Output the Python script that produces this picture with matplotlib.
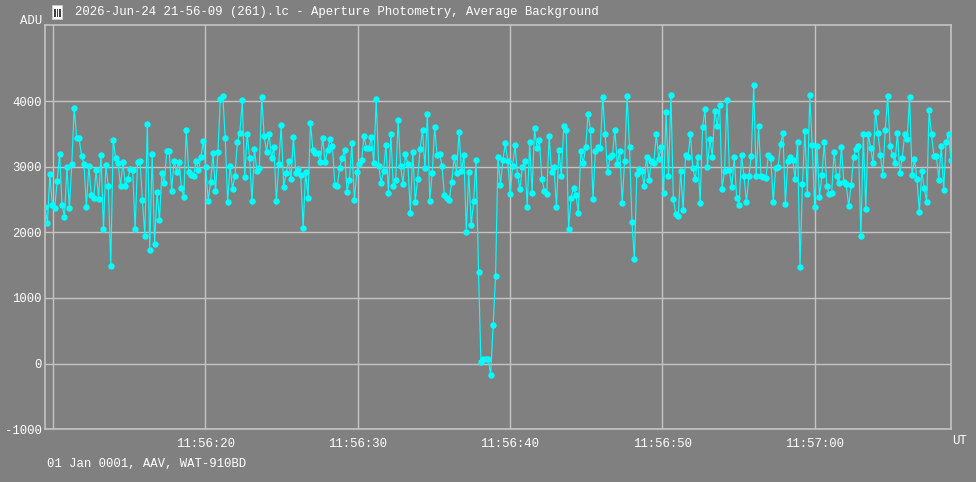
import numpy as np
import matplotlib
matplotlib.use("Agg")
import matplotlib.pyplot as plt
from matplotlib.patches import Rectangle

# ---- data (ADU values, in frame order) ----
adu_a = [2389, 2141, 2889, 2419, 2369, 2778, 3197, 2419, 2237, 2995, 2369, 3040, 3900, 3444, 3429, 3167,
         3045, 2389, 3015, 2566, 2525, 2944, 2510, 3182, 2045, 3020, 2702, 1490, 3404, 3136, 3056, 2702,
         3076, 2702, 2818, 2965, 2955, 2045, 3076, 3091, 2485, 1950, 3657, 1738, 3187, 1823, 2611, 2192,
         2899, 2758, 3242, 3242, 2636, 3091, 2919, 3076, 2677, 2545, 3555, 2924, 2869, 2859, 3091, 2944]
adu_b = [3146, 3389, 3000, 2475, 2768, 3202, 2626, 3227, 4030, 4081, 3434, 2455, 3015, 2662, 2864, 3374,
         3515, 4010, 2838, 3505, 3136, 2470, 3273, 2939, 2985, 4061, 3460, 3227, 3505, 3131, 3303, 2470,
         3040, 3631, 2692, 2899, 3091, 2813, 3455, 2904, 2965, 2874, 2071, 2924, 2520, 3666, 3258, 3202,
         3202, 3071, 3444, 3066, 3247, 3419, 3318, 2727, 2712, 2985, 3136, 3252, 2621, 2793, 3358, 2485]
adu_c = [2914, 3041, 3096, 3466, 3279, 3279, 3456, 3056, 4034, 3015, 2757, 2934, 3335, 2600, 3497, 2701,
         2792, 3715, 3005, 2741, 3193, 3035, 2300, 3223, 2458, 2807, 3269, 3558, 2980, 3806, 2483, 2909,
         3598, 3172, 3198, 3015, 2564, 2528, 2498, 2767, 3147, 2909, 3527, 2934, 3172, 2011, 2924, 2108,
         2478, 3106, 1403, 19, 75, 64, 64, -169, 582, 1337, 3152, 2726, 3096, 3355, 3086, 2579]
adu_d = [3015, 3330, 2878, 2655, 2995, 3081, 2390, 3371, 2599, 3584, 3279, 3406, 2817, 2634, 2578, 3467,
         2919, 2995, 2380, 3254, 2863, 3615, 3559, 2045, 2528, 2675, 2568, 2299, 3244, 3056, 3300, 3798,
         3559, 2507, 3239, 3300, 3290, 4062, 3493, 2919, 3147, 3178, 3559, 3036, 3244, 2441, 3091, 4077,
         3295, 2162, 1588, 2883, 2959, 2929, 2710, 3152, 2792, 3081, 3051, 3498, 3122, 3295, 2604, 3828]
adu_e = [2858, 4092, 2507, 2279, 2243, 2934, 2345, 3183, 3142, 3493, 2975, 2807, 3152, 2441, 3599, 3874,
         3000, 3416, 3152, 3853, 3620, 3945, 2665, 2929, 4021, 2944, 2685, 3142, 2522, 2416, 3178, 2863,
         2456, 2853, 3168, 4245, 2858, 3620, 2858, 2838, 2822, 3178, 3132, 2461, 2985, 2995, 3345, 3513,
         2431, 3086, 3147, 3107, 2812, 3381, 1471, 2736, 3538, 2578, 4087, 3330, 2385, 3310, 2538]
adu_f = [2868, 3371, 2710, 2583, 2599, 3224, 2858, 2746, 3300, 2771, 2731, 2395, 2721, 3147, 3264, 3315,
         1938, 3503, 2350, 3498, 3284, 3051, 3838, 3508, 3183, 2868, 3554, 4082, 3315, 3183, 3056, 3513,
         2909, 3137, 3503, 3416, 4057, 2873, 3112, 2817, 2309, 2939, 2675, 2467, 3859, 3493, 3163, 3163,
         2802, 3320, 2644, 3371, 3498, 3097]

start_sec = 9.49          # seconds after 11:56:00 of the first frame
frame_step = 0.1598       # seconds between frames

xtick_secs = [10, 20, 30, 40, 50, 60]
xtick_labels = ["", "11:56:20", "11:56:30", "11:56:40", "11:56:50", "11:57:00"]
ytick_vals = [-1000, 0, 1000, 2000, 3000, 4000]

title = "2026-Jun-24 21-56-09 (261).lc - Aperture Photometry, Average Background"
footer = "01 Jan 0001, AAV, WAT-910BD"

# ---- build ----
adu = np.array(adu_a + adu_b + adu_c + adu_d + adu_e + adu_f, dtype=float)
t = start_sec + frame_step * np.arange(len(adu))

W, H = 976, 482
bg = "#808080"
grid_c = "#c4c4c4"
cyan = "#00ffff"
font = ["Liberation Mono", "DejaVu Sans Mono"]
fs = 8.9

fig = plt.figure(figsize=(W / 100, H / 100), dpi=100, facecolor=bg)
ax = fig.add_axes([45 / W, 1 - 429.3 / H, 906 / W, (429.3 - 25.3) / H], facecolor=bg)

ax.plot(t, adu, color=cyan, lw=0.85, marker="o", ms=3.6, mec=cyan, mfc=cyan, zorder=3)

ax.set_xlim(t[0], t[-1])
ax.set_ylim(-1000, 5153)
ax.set_xticks(xtick_secs)
ax.set_xticklabels(xtick_labels)
ax.set_yticks(ytick_vals)
ax.set_yticklabels([str(v) for v in ytick_vals])
ax.grid(True, color=grid_c, lw=1.0)
ax.set_axisbelow(True)
ax.tick_params(axis="both", length=0, colors="white", labelsize=fs)
ax.tick_params(axis="x", pad=6)
ax.tick_params(axis="y", pad=2.5)
for lab in ax.get_xticklabels() + ax.get_yticklabels():
    lab.set_family(font)
    lab.set_color("white")
for s in ax.spines.values():
    s.set_color(grid_c)
    s.set_linewidth(1.2)

# texts
fig.text(42 / W, 1 - 21 / H, "ADU", ha="right", va="center", color="white", fontsize=fs, family=font)
fig.text(75 / W, 1 - 12.5 / H, title, ha="left", va="center", color="white", fontsize=fs, family=font)
fig.text(952 / W, 1 - 441 / H, "UT", ha="left", va="center", color="white", fontsize=fs, family=font)
fig.text(47 / W, 1 - 464 / H, footer, ha="left", va="center", color="white", fontsize=fs, family=font)

# small icon left of the title
fig.patches.append(Rectangle((52 / W, 1 - 19 / H), 10 / W, 14 / H, transform=fig.transFigure,
                             facecolor="white", edgecolor="#d0d0d0", lw=0.5))
for dx in (54, 56.5, 59):
    fig.patches.append(Rectangle((dx / W, 1 - 17 / H), 1.5 / W, 8 / H, transform=fig.transFigure,
                                 facecolor="#404040", edgecolor="none"))

fig.savefig("out.png", dpi=100, facecolor=bg)
